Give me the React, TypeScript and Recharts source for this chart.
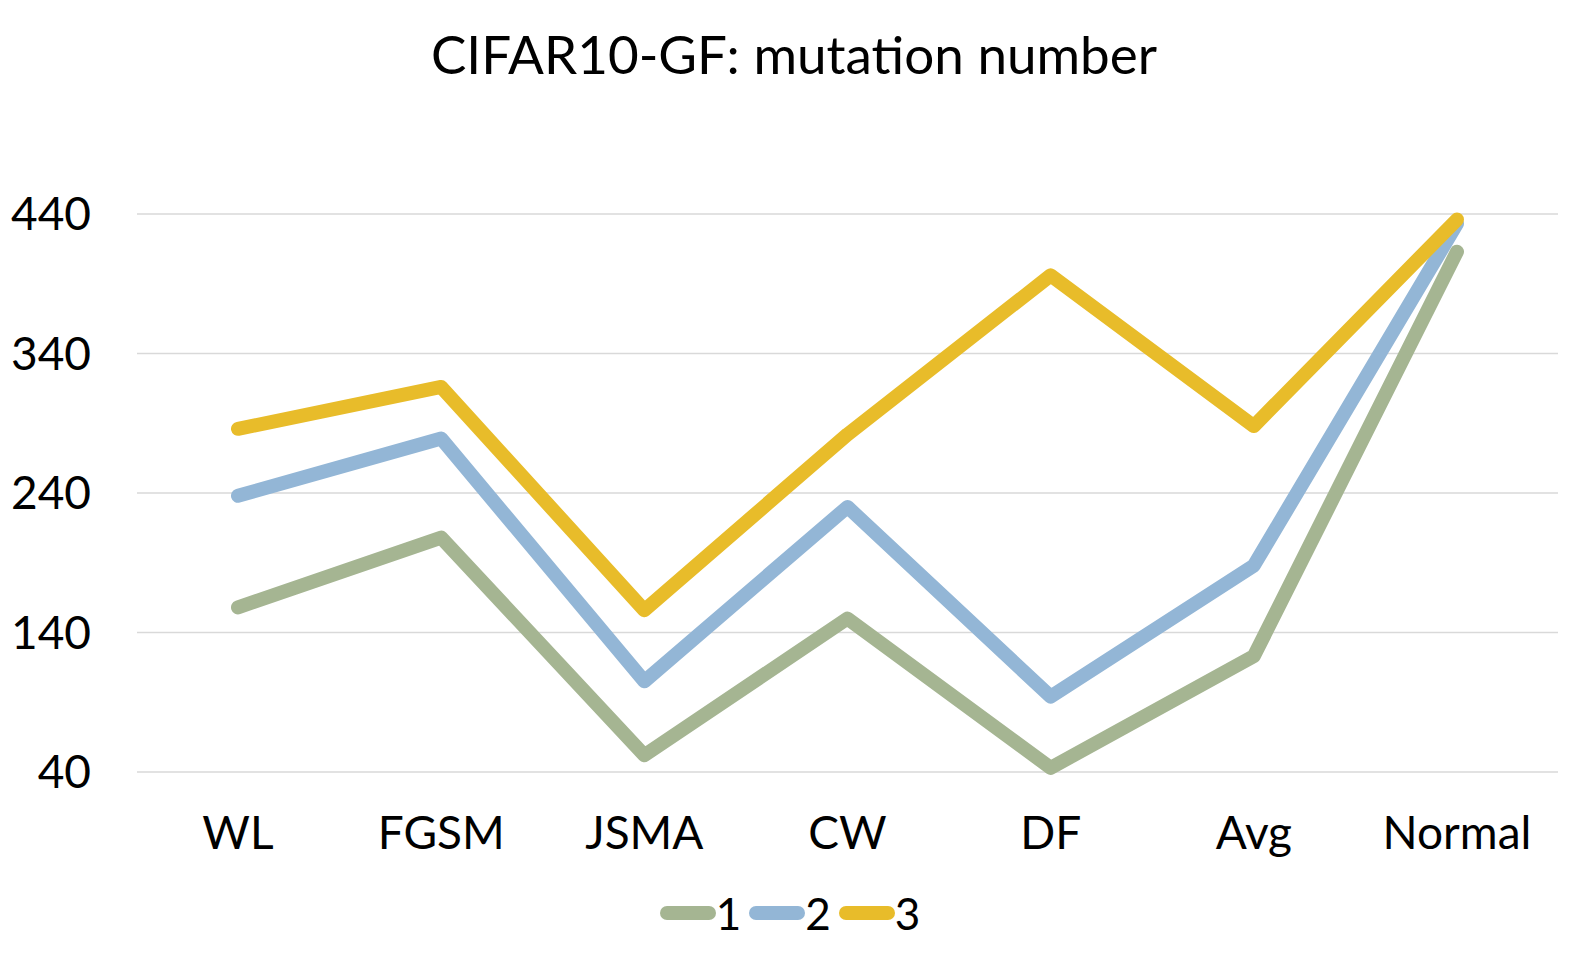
import React from "react";
import {
  LineChart,
  Line,
  XAxis,
  YAxis,
  CartesianGrid,
  Legend,
} from "recharts";

const categories = ["WL", "FGSM", "JSMA", "CW", "DF", "Avg", "Normal"];
const series1 = [158, 208, 52, 150, 43, 123, 413];
const series2 = [238, 279, 105, 230, 94, 188, 433];
const series3 = [286, 316, 156, 282, 396, 288, 436];
const yTicks = [40, 140, 240, 340, 440];

const seriesInfo = [
  { key: "s1", name: "1", color: "#A5B592" },
  { key: "s2", name: "2", color: "#93B6D6" },
  { key: "s3", name: "3", color: "#E8BC2A" },
];

const data = categories.map((cat, i) => ({
  cat,
  s1: series1[i],
  s2: series2[i],
  s3: series3[i],
}));

const FONT = "Lato, 'Noto Sans', sans-serif";

function LegendContent() {
  return (
    <div
      style={{
        display: "flex",
        justifyContent: "center",
        alignItems: "center",
        height: 40,
        fontFamily: FONT,
        fontSize: 44,
        color: "#000",
      }}
    >
      {seriesInfo.map((s) => (
        <div
          key={s.key}
          style={{ display: "flex", alignItems: "center", marginRight: 8 }}
        >
          <svg width={56} height={16}>
            <line
              x1={7}
              y1={8}
              x2={49}
              y2={8}
              stroke={s.color}
              strokeWidth={14}
              strokeLinecap="round"
            />
          </svg>
          <span style={{ lineHeight: "40px" }}>{s.name}</span>
        </div>
      ))}
    </div>
  );
}

export default function App() {
  return (
    <div
      style={{
        position: "absolute",
        left: 0,
        top: 0,
        width: 1588,
        height: 967,
        background: "#fff",
      }}
    >
      <div
        style={{
          position: "absolute",
          top: 22,
          left: 0,
          width: 1588,
          textAlign: "center",
          fontFamily: FONT,
          fontSize: 53,
          lineHeight: "64px",
          color: "#000",
        }}
      >
        CIFAR10-GF: mutation number
      </div>
      <LineChart
        width={1588}
        height={967}
        data={data}
        margin={{ top: 214, right: 30, bottom: 34, left: 0 }}
      >
        <CartesianGrid
          vertical={false}
          stroke="#d9d9d9"
          strokeWidth={1.5}
        />
        <XAxis
          dataKey="cat"
          axisLine={false}
          tickLine={false}
          tickSize={0}
          tickMargin={44}
          height={121}
          padding={{ left: 101, right: 101 }}
          interval={0}
          tick={{ fill: "#000", fontSize: 46, fontFamily: FONT }}
        />
        <YAxis
          domain={[40, 440]}
          ticks={yTicks}
          axisLine={false}
          tickLine={false}
          tickSize={0}
          tickMargin={46}
          width={137}
          tick={{ fill: "#000", fontSize: 46, fontFamily: FONT }}
        />
        <Legend
          verticalAlign="bottom"
          content={<LegendContent />}
          wrapperStyle={{ left: 0, width: 1588 }}
        />
        {seriesInfo.map((s) => (
          <Line
            key={s.key}
            type="linear"
            dataKey={s.key}
            name={s.name}
            stroke={s.color}
            strokeWidth={14}
            strokeLinecap="round"
            strokeLinejoin="round"
            dot={false}
            activeDot={false}
            isAnimationActive={false}
          />
        ))}
      </LineChart>
    </div>
  );
}
